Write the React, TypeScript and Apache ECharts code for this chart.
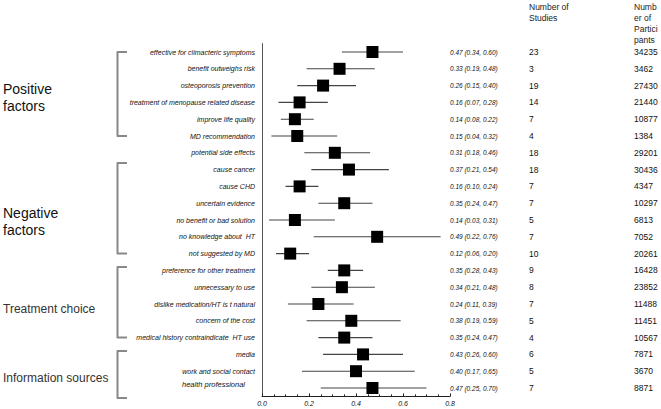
import React, { useEffect, useRef } from "react";
import * as echarts from "echarts";

// ---- data ----
const factors = [
  "effective for climacteric symptoms",
  "benefit outweighs risk",
  "osteoporosis prevention",
  "treatment of menopause related disease",
  "improve life quality",
  "MD recommendation",
  "potential side effects",
  "cause cancer",
  "cause CHD",
  "uncertain evidence",
  "no benefit or bad solution",
  "no knowledge about  HT",
  "not suggested by MD",
  "preference for other treatment",
  "unnecessary to use",
  "dislike medication/HT is t natural",
  "concern of the cost",
  "medical history contraindicate  HT use",
  "media",
  "work and social contact",
  "health professional",
];
const estimates = [0.47, 0.33, 0.26, 0.16, 0.14, 0.15, 0.31, 0.37, 0.16, 0.35, 0.14, 0.49, 0.12, 0.35, 0.34, 0.24, 0.38, 0.35, 0.43, 0.4, 0.47];
const lower = [0.34, 0.19, 0.15, 0.07, 0.08, 0.04, 0.18, 0.21, 0.1, 0.24, 0.03, 0.22, 0.06, 0.28, 0.21, 0.11, 0.19, 0.24, 0.26, 0.17, 0.25];
const upper = [0.6, 0.48, 0.4, 0.28, 0.22, 0.32, 0.46, 0.54, 0.24, 0.47, 0.31, 0.76, 0.2, 0.43, 0.48, 0.39, 0.59, 0.47, 0.6, 0.65, 0.7];
const studies = [23, 3, 19, 14, 7, 4, 18, 18, 7, 7, 5, 7, 10, 9, 8, 7, 5, 4, 6, 5, 7];
const participants = [34235, 3462, 27430, 21440, 10877, 1384, 29201, 30436, 4347, 10297, 6813, 7052, 20261, 16428, 23852, 11488, 11451, 10567, 7871, 3670, 8871];
const groupNames = ["Positive\nfactors", "Negative\nfactors", "Treatment choice", "Information sources"];
const studiesHeader = "Number of\nStudies";
const participantsHeader = "Numb\ner of\nPartici\npants";

// ---- layout (row positions of brackets / group labels, in row units) ----
const groupLayout = [
  { from: 0, to: 5, label: 2.7, size: 14, color: "#111" },
  { from: 6.6, to: 12, label: 10.1, size: 14, color: "#111" },
  { from: 12.8, to: 17, label: 15.3, size: 12, color: "#333" },
  { from: 17.8, to: 20.6, label: 19.4, size: 12, color: "#333" },
];

const FONT = "'Liberation Sans', Arial, sans-serif";

export default function App() {
  const ref = useRef<HTMLDivElement>(null);
  useEffect(() => {
    if (!ref.current) return;
    const chart = echarts.init(ref.current, undefined, { renderer: "svg" });
    const idx = factors.map((_, i) => i);
    const ciText = factors.map(
      (_, i) => `${estimates[i].toFixed(2)} (${lower[i].toFixed(2)}, ${upper[i].toFixed(2)})`
    );
    const hiddenAxis = {
      type: "category" as const,
      inverse: true,
      position: "right" as const,
      axisLine: { show: false },
      axisTick: { show: false },
      splitLine: { show: false },
    };
    chart.setOption({
      animation: false,
      textStyle: { fontFamily: FONT },
      grid: { left: 262, right: 211, top: 43.6, bottom: 12.6, containLabel: false },
      xAxis: {
        type: "value",
        min: 0,
        max: 0.8,
        interval: 0.2,
        axisLine: { show: true, lineStyle: { color: "#222", width: 1 } },
        axisTick: { show: true, inside: true, length: 3, lineStyle: { color: "#222" } },
        minorTick: { show: true, splitNumber: 4, length: 2, lineStyle: { color: "#222" } },
        splitLine: { show: false },
        axisLabel: {
          formatter: (v: number) => v.toFixed(1),
          fontSize: 7,
          fontStyle: "italic",
          color: "#111",
          margin: 4,
          fontFamily: FONT,
        },
      },
      yAxis: [
        {
          type: "category",
          data: factors,
          inverse: true,
          axisLine: { show: true, lineStyle: { color: "#555", width: 1 } },
          axisTick: { show: false },
          splitLine: { show: false },
          axisLabel: {
            fontSize: 7,
            fontStyle: "italic",
            color: "#111",
            margin: 7,
            fontFamily: FONT,
            formatter: (v: string, i: number) => (i === factors.length - 1 ? `{h|${v}}` : v),
            rich: {
              h: { fontSize: 7.5, fontStyle: "italic", color: "#111", padding: [0, 10, 8, 0], fontFamily: FONT },
            },
          },
        },
        {
          ...hiddenAxis,
          data: ciText,
          axisLabel: { fontSize: 6.5, fontStyle: "italic", color: "#111", margin: 0, align: "left", fontFamily: FONT },
        },
        {
          ...hiddenAxis,
          data: studies.map(String),
          offset: 79,
          axisLabel: { fontSize: 8.5, color: "#111", margin: 0, align: "left", fontFamily: FONT },
        },
        {
          ...hiddenAxis,
          data: participants.map(String),
          offset: 184,
          axisLabel: { fontSize: 8.5, color: "#111", margin: 0, align: "left", fontFamily: FONT },
        },
      ],
      series: [
        {
          type: "custom",
          yAxisIndex: 0,
          data: idx.map((i) => [lower[i], upper[i], i]),
          encode: { x: [0, 1], y: 2 },
          renderItem: (_p: any, api: any) => {
            const a = api.coord([api.value(0), api.value(2)]);
            const b = api.coord([api.value(1), api.value(2)]);
            return {
              type: "line",
              shape: { x1: a[0], y1: a[1], x2: b[0], y2: b[1] },
              style: { stroke: "#444", lineWidth: 1.1 },
            };
          },
        },
        {
          type: "scatter",
          yAxisIndex: 0,
          symbol: "rect",
          symbolSize: 12,
          itemStyle: { color: "#000", opacity: 1 },
          data: idx.map((i) => [estimates[i], i]),
          z: 3,
        },
      ],
    });

    const y0 = chart.convertToPixel({ yAxisIndex: 0 }, 0) as number;
    const y1 = chart.convertToPixel({ yAxisIndex: 0 }, 1) as number;
    const rowY = (r: number) => y0 + r * (y1 - y0);
    const graphic: any[] = [];
    groupLayout.forEach((g, k) => {
      const top = rowY(g.from);
      const bot = rowY(g.to);
      graphic.push({
        type: "polyline",
        shape: { points: [[127, top], [117.5, top], [117.5, bot], [127, bot]] },
        style: { stroke: "#888", lineWidth: 2, fill: null, lineJoin: "round" },
      });
      graphic.push({
        type: "text",
        x: 3,
        y: rowY(g.label),
        style: {
          text: groupNames[k],
          fontSize: g.size,
          fontFamily: FONT,
          fill: g.color,
          lineHeight: 17,
          verticalAlign: "middle",
          align: "left",
        },
      });
    });
    graphic.push({
      type: "text",
      x: 529,
      y: 1,
      style: { text: studiesHeader, fontSize: 8.5, fontFamily: FONT, fill: "#222", lineHeight: 11 },
    });
    graphic.push({
      type: "text",
      x: 634,
      y: 1,
      style: { text: participantsHeader, fontSize: 8.5, fontFamily: FONT, fill: "#222", lineHeight: 11 },
    });
    chart.setOption({ graphic });

    return () => chart.dispose();
  }, []);
  return (
    <div
      ref={ref}
      style={{ position: "fixed", left: 0, top: 0, width: 661, height: 409, background: "#fff" }}
    />
  );
}
